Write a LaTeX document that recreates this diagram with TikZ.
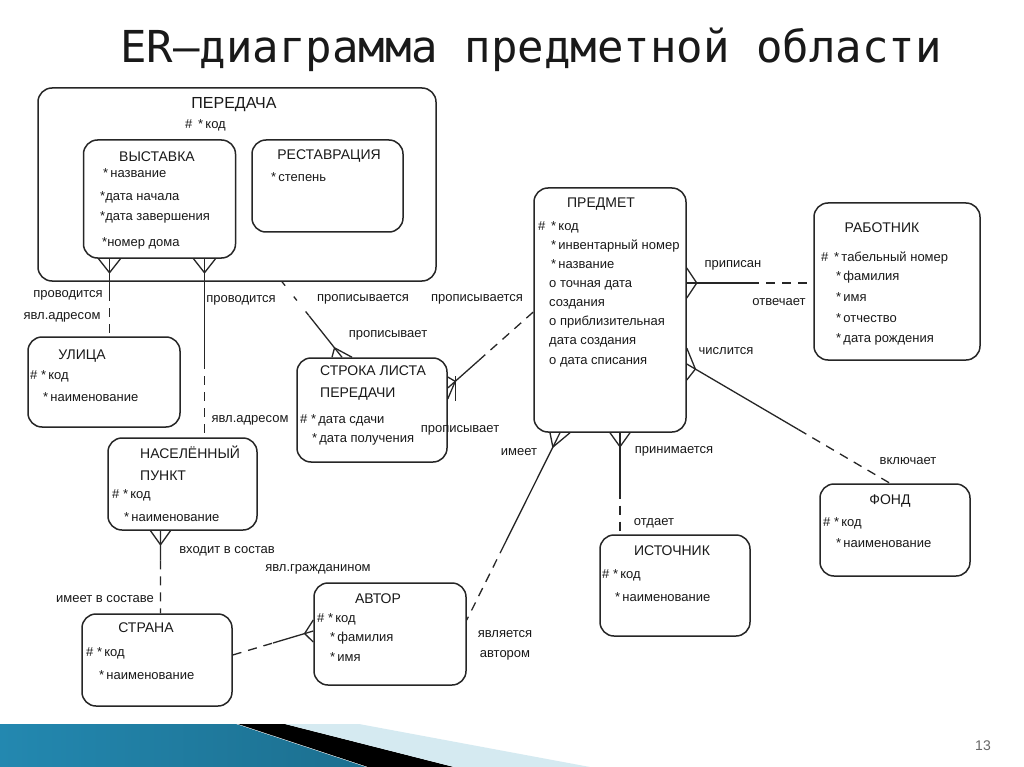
\documentclass[tikz,border=0pt]{standalone}
\usepackage{fontspec}
\setmainfont{Liberation Sans}
\newfontfamily\titlefont{DejaVu Sans Mono}
\usetikzlibrary{calc}
% #1 toe centre on box edge, #2 far end of connector, #3 half-spread along edge, #4 depth
\newcommand{\crowfoot}[4]{%
  \draw[conn] ($(#1)!#4pt!(#2)$) -- ($(#1)+(#3)$)
              ($(#1)!#4pt!(#2)$) -- ($(#1)-(#3)$);}
\begin{document}
\begin{tikzpicture}[x=1pt,y=-1pt,
  ent/.style={draw=black!85,line width=1.5pt,rounded corners=14pt,inner sep=0pt},
  ttl/.style={font=\fontsize{14}{16}\selectfont,anchor=base,inner sep=0pt,text=black!90},
  ttll/.style={font=\fontsize{14}{16}\selectfont,anchor=base west,inner sep=0pt,text=black!90},
  attr/.style={font=\fontsize{13}{15}\selectfont,anchor=base west,inner sep=0pt,text=black!90},
  lbl/.style={font=\fontsize{13}{15}\selectfont,anchor=base,inner sep=0pt,text=black!90},
  conn/.style={line width=1.3pt,draw=black!85},
  dsh/.style={conn,dash pattern=on 9pt off 7pt},
  dots/.style={conn,dash pattern=on 5pt off 14pt},
]
\fill[white] (0,0) rectangle (1024,767);
\useasboundingbox (0,0) rectangle (1024,767);

% title
\node[font=\titlefont\fontsize{44}{44}\selectfont,text=black!90,anchor=base,inner sep=0pt] (title) at (531,63) {ER–диаграмма предметной области};

% bottom band
\definecolor{bandA}{HTML}{2388B0}
\definecolor{bandB}{HTML}{5CBEDD}
\definecolor{bandC}{HTML}{1C6F8F}
\definecolor{bandL}{HTML}{D5EAF1}
\shade[left color=bandA,middle color=bandB,right color=bandC] (0,724) -- (236,724) -- (366,767) -- (0,767) -- cycle;
\fill[black] (238,724) -- (285,724) -- (454,767) -- (368,767) -- cycle;
\fill[bandL] (285,724) -- (359,724) -- (590,767) -- (454,767) -- cycle;
\node[font=\fontsize{14}{14}\selectfont,text=black!60,anchor=base,inner sep=0pt] (pnum) at (983,750) {13};

% entity boxes
\node[ent,minimum width=398,minimum height=193] (peredacha) at (237,184.5) {};
\node[ent,minimum width=152,minimum height=118] (vyst) at (159.5,199) {};
\node[ent,minimum width=151,minimum height=92] (rest) at (327.5,186) {};
\node[ent,minimum width=152,minimum height=90] (ulica) at (104,382) {};
\node[ent,minimum width=150,minimum height=104] (stroka) at (372,410) {};
\node[ent,minimum width=152,minimum height=244] (predmet) at (610,310) {};
\node[ent,minimum width=166,minimum height=157] (rabotnik) at (897,281.5) {};
\node[ent,minimum width=149,minimum height=92] (naspunkt) at (182.5,484) {};
\node[ent,minimum width=150,minimum height=92] (fond) at (895,530) {};
\node[ent,minimum width=150,minimum height=101] (istochnik) at (675,585.5) {};
\node[ent,minimum width=150,minimum height=92] (strana) at (157,660) {};
\node[ent,minimum width=152,minimum height=102] (avtor) at (390,634) {};

% texts
\node[ttl,font=\fontsize{16}{18}\selectfont] (t-per) at (234,109) {ПЕРЕДАЧА};
\node[attr] (per-1) at (185,129) {\#\;\,*\,код};

\node[ttl] (t-vyst) at (157,162) {ВЫСТАВКА};
\node[attr] (vyst-1) at (103,178) {*\,название};
\node[attr] (vyst-2) at (100,201) {*дата начала};
\node[attr] (vyst-3) at (100,221) {*дата завершения};
\node[attr] (vyst-4) at (102,247) {*номер дома};

\node[ttl] (t-rest) at (329,160) {РЕСТАВРАЦИЯ};
\node[attr] (rest-1) at (271,182) {*\,степень};

\node[ttl] (t-ul) at (82,359) {УЛИЦА};
\node[attr] (ul-1) at (30,379) {\#\;*\,код};
\node[attr] (ul-2) at (43,401) {*\,наименование};

\node[ttll] (t-str-a) at (320,375) {СТРОКА ЛИСТА};
\node[ttll] (t-str-b) at (320,397) {ПЕРЕДАЧИ};
\node[attr] (str-1) at (300,423) {\#\;*\,дата сдачи};
\node[attr] (str-2) at (312,442) {*\,дата получения};

\node[ttl] (t-pr) at (601,208) {ПРЕДМЕТ};
\node[attr] (pr-1) at (538,230) {\#\;\,*\,код};
\node[attr] (pr-2) at (551,249) {*\,инвентарный номер};
\node[attr] (pr-3) at (551,268) {*\,название};
\node[attr] (pr-4) at (549,287) {о точная дата};
\node[attr] (pr-5) at (549,306) {создания};
\node[attr] (pr-6) at (549,325) {о приблизительная};
\node[attr] (pr-7) at (549,344) {дата создания};
\node[attr] (pr-8) at (549,364) {о дата списания};

\node[ttl] (t-rab) at (882,233) {РАБОТНИК};
\node[attr] (rab-1) at (821,261) {\#\;\,*\,табельный номер};
\node[attr] (rab-2) at (836,280) {*\,фамилия};
\node[attr] (rab-3) at (836,301) {*\,имя};
\node[attr] (rab-4) at (836,322) {*\,отчество};
\node[attr] (rab-5) at (836,342) {*\,дата рождения};

\node[ttll] (t-np-a) at (140,458) {НАСЕЛЁННЫЙ};
\node[ttll] (t-np-b) at (140,480) {ПУНКТ};
\node[attr] (np-1) at (112,498) {\#\;*\,код};
\node[attr] (np-2) at (124,521) {*\,наименование};

\node[ttl] (t-fond) at (890,504) {ФОНД};
\node[attr] (fond-1) at (823,526) {\#\;*\,код};
\node[attr] (fond-2) at (836,547) {*\,наименование};

\node[ttl] (t-ist) at (672,555) {ИСТОЧНИК};
\node[attr] (ist-1) at (602,578) {\#\;*\,код};
\node[attr] (ist-2) at (615,601) {*\,наименование};

\node[ttl] (t-str2) at (146,632) {СТРАНА};
\node[attr] (sn-1) at (86,656) {\#\;*\,код};
\node[attr] (sn-2) at (99,679) {*\,наименование};

\node[ttl] (t-av) at (378,603) {АВТОР};
\node[attr] (av-1) at (317,622) {\#\;*\,код};
\node[attr] (av-2) at (330,641) {*\,фамилия};
\node[attr] (av-3) at (330,661) {*\,имя};

% connectors
% ВЫСТАВКА - УЛИЦА
\coordinate (a1) at ($(vyst.south)+(-50,0)$);
\coordinate (a2) at (a1 |- ulica.north);
\draw[conn] (a1) -- ($(a1)!0.43!(a2)$);
\draw[dsh] ($(a1)!0.43!(a2)$) -- (a2);
\crowfoot{a1}{a2}{11,0}{14}
% ВЫСТАВКА - НАСЕЛЁННЫЙ ПУНКТ
\coordinate (b1) at ($(vyst.south)+(45,0)$);
\coordinate (b2) at (b1 |- naspunkt.north);
\draw[conn] (b1) -- ($(b1)!0.57!(b2)$);
\draw[dsh] ($(b1)!0.57!(b2)$) -- (b2);
\crowfoot{b1}{b2}{11,0}{14}
% ПЕРЕДАЧА - СТРОКА
\coordinate (c1) at ($(peredacha.south)+(45,0)$);
\coordinate (c2) at ($(stroka.north)+(-30,0)$);
\draw[dots] (c1) -- ($(c1)!0.45!(c2)$);
\draw[conn] ($(c1)!0.45!(c2)$) -- (c2);
\crowfoot{c2}{c1}{10,0}{12}
% ПРЕДМЕТ - СТРОКА
\coordinate (d1) at ($(stroka.east)+(0,-22)$);
\coordinate (d2) at ($(predmet.west)+(0,2)$);
\draw[conn] (d1) -- ($(d1)!0.36!(d2)$);
\draw[dsh] ($(d1)!0.36!(d2)$) -- (d2);
\crowfoot{d1}{d2}{0,11}{10}
\draw[conn] ($(d1)+(8,-12)$) -- ($(d1)+(8,13)$);
% ПРЕДМЕТ - РАБОТНИК
\coordinate (e1) at ($(predmet.east)+(0,-27)$);
\coordinate (e2) at (e1 -| rabotnik.west);
\draw[conn] (e1) -- ($(e1)!0.5!(e2)$);
\draw[dsh] ($(e1)!0.5!(e2)$) -- (e2);
\crowfoot{e1}{e2}{0,15}{10}
% ПРЕДМЕТ - ФОНД
\coordinate (f1) at ($(predmet.east)+(0,54)$);
\coordinate (f2) at ($(fond.north)+(-5,0)$);
\draw[conn] (f1) -- ($(f1)!0.55!(f2)$);
\draw[dsh] ($(f1)!0.55!(f2)$) -- (f2);
\crowfoot{f1}{f2}{0,16}{10}
% ПРЕДМЕТ - ИСТОЧНИК
\coordinate (g1) at ($(predmet.south)+(10,0)$);
\coordinate (g2) at (g1 |- istochnik.north);
\draw[conn] (g1) -- ($(g1)!0.56!(g2)$);
\draw[dsh] ($(g1)!0.56!(g2)$) -- (g2);
\crowfoot{g1}{g2}{10,0}{14}
% ПРЕДМЕТ - АВТОР
\coordinate (h1) at ($(predmet.south)+(-50,0)$);
\coordinate (h2) at ($(avtor.east)+(0,-14)$);
\draw[conn] (h1) -- ($(h1)!0.6!(h2)$);
\draw[dsh] ($(h1)!0.6!(h2)$) -- (h2);
\crowfoot{h1}{h2}{10,0}{16}
% НАСЕЛЁННЫЙ ПУНКТ - СТРАНА
\coordinate (i1) at ($(naspunkt.south)+(-22,0)$);
\coordinate (i2) at (i1 |- strana.north);
\draw[conn] (i1) -- ($(i1)!0.36!(i2)$);
\draw[dsh] ($(i1)!0.36!(i2)$) -- (i2);
\crowfoot{i1}{i2}{10,0}{14}
% СТРАНА - АВТОР
\coordinate (j1) at ($(strana.east)+(0,-5)$);
\coordinate (j2) at ($(avtor.west)+(0,-3)$);
\draw[dsh] (j1) -- ($(j1)!0.5!(j2)$);
\draw[conn] ($(j1)!0.5!(j2)$) -- (j2);
\crowfoot{j2}{j1}{0,11}{9}

% labels
\node[lbl] (l1) at (68,297) {проводится};
\node[lbl] (l2) at (62,319) {явл.адресом};
\node[lbl] (l3) at (241,302) {проводится};
\node[lbl] (l4) at (250,422) {явл.адресом};
\node[lbl] (l5) at (363,301) {прописывается};
\node[lbl] (l6) at (477,301) {прописывается};
\node[lbl] (l7) at (388,337) {прописывает};
\node[lbl] (l8) at (460,432) {прописывает};
\node[lbl] (l9) at (519,455) {имеет};
\node[lbl] (l10) at (733,267) {приписан};
\node[lbl] (l11) at (779,305) {отвечает};
\node[lbl] (l12) at (726,354) {числится};
\node[lbl] (l13) at (908,464) {включает};
\node[lbl] (l14) at (674,453) {принимается};
\node[lbl] (l15) at (654,525) {отдает};
\node[lbl] (l16) at (227,553) {входит в состав};
\node[lbl] (l17) at (318,571) {явл.гражданином};
\node[lbl] (l18) at (105,602) {имеет в составе};
\node[lbl] (l19) at (505,637) {является};
\node[lbl] (l20) at (505,657) {автором};
\end{tikzpicture}
\end{document}
